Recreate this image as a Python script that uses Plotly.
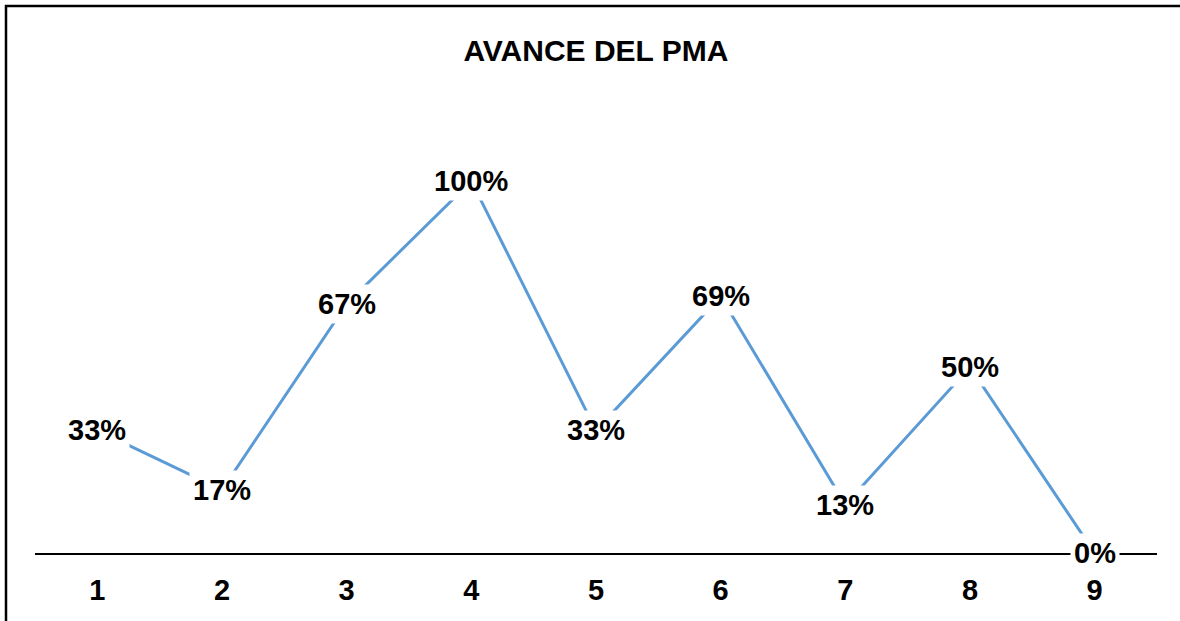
import plotly.graph_objects as go

categories = [1, 2, 3, 4, 5, 6, 7, 8, 9]
values = [0.33, 0.17, 0.67, 1.00, 0.33, 0.69, 0.13, 0.50, 0.00]
labels = ["33%", "17%", "67%", "100%", "33%", "69%", "13%", "50%", "0%"]
tick_labels = ["1", "2", "3", "4", "5", "6", "7", "8", "9"]
title_text = "AVANCE DEL PMA"

W, H = 1180, 621
L, R, T, B = 35, 1157, 144, 553
FONT = "Liberation Sans, Arial, sans-serif"


def px_x(p):
    return (p - L) / (R - L)


def px_y(p):
    return (B - p) / (B - T)


fig = go.Figure()
fig.add_trace(go.Scatter(
    x=categories, y=values, mode="lines",
    line=dict(color="#5B9BD5", width=3),
    cliponaxis=False, hoverinfo="skip", showlegend=False,
))

for c, v, t in zip(categories, values, labels):
    fig.add_annotation(
        x=c, y=v, text="<b>%s</b>" % t, showarrow=False,
        xref="x", yref="y", bgcolor="white", borderpad=3,
        font=dict(family=FONT, size=29, color="black"),
    )

# outer frame
fig.add_shape(type="rect", xref="paper", yref="paper",
              x0=px_x(6), x1=px_x(1190), y0=px_y(640), y1=px_y(6),
              line=dict(color="black", width=2.5), fillcolor="rgba(0,0,0,0)",
              layer="below")

fig.update_layout(
    width=W, height=H,
    margin=dict(l=L, r=W - R, t=T, b=H - B, autoexpand=False),
    paper_bgcolor="white", plot_bgcolor="white",
    title=dict(text="<b>%s</b>" % title_text, x=0.505, xanchor="center",
               y=1 - 50 / H, yanchor="middle", yref="container",
               font=dict(family=FONT, size=30, color="black")),
    xaxis=dict(range=[0.5, 9.5], tickvals=categories, ticktext=["<b>%s</b>" % s for s in tick_labels],
               showgrid=False, zeroline=False, showline=True, linecolor="black", linewidth=2,
               ticks="", ticklabelstandoff=10, automargin=False,
               tickfont=dict(family=FONT, size=29, color="black")),
    yaxis=dict(range=[0, 1.1], visible=False, showgrid=False, zeroline=False, automargin=False),
)

fig.write_html("out.html", config={"displayModeBar": False},
               post_script="document.body.style.margin='0';document.body.style.overflow='hidden';")
